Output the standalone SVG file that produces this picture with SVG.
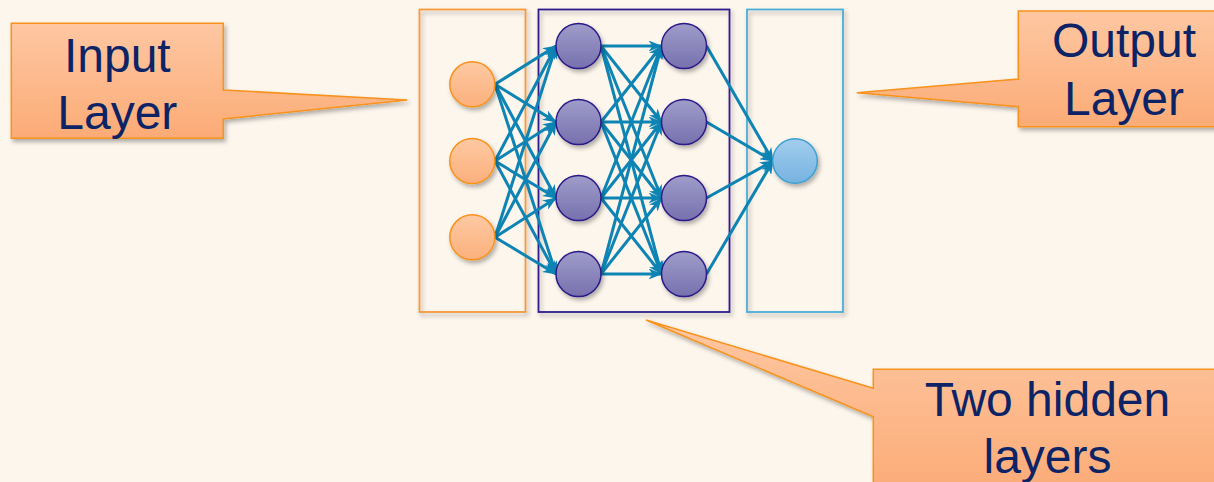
<svg xmlns="http://www.w3.org/2000/svg" width="1214" height="482" viewBox="0 0 1214 482">
<defs>
<linearGradient id="gCall" x1="0" y1="0" x2="0" y2="1"><stop offset="0" stop-color="#fec7a2"/><stop offset="1" stop-color="#fbab76"/></linearGradient>
<linearGradient id="gIn" x1="0" y1="0" x2="0" y2="1"><stop offset="0" stop-color="#fec9a3"/><stop offset="1" stop-color="#fbb07c"/></linearGradient>
<linearGradient id="gHid" x1="0" y1="0" x2="0" y2="1"><stop offset="0" stop-color="#9f9dca"/><stop offset="1" stop-color="#7770ae"/></linearGradient>
<linearGradient id="gOut" x1="0" y1="0" x2="0" y2="1"><stop offset="0" stop-color="#a3cdee"/><stop offset="1" stop-color="#76b3e0"/></linearGradient>
<filter id="sh" x="-20%" y="-20%" width="150%" height="150%"><feDropShadow dx="2" dy="3" stdDeviation="2.2" flood-color="#000" flood-opacity="0.3"/></filter>
<marker id="ah" viewBox="0 0 14 11" refX="13" refY="5.5" markerWidth="14" markerHeight="11" markerUnits="userSpaceOnUse" orient="auto"><path d="M0,0 L14,5.5 L0,11 L4,5.5 Z" fill="#0e84b4"/></marker>
<style>
.call{fill:url(#gCall);stroke:#f7931e;stroke-width:1.5;filter:url(#sh)}
.lbl{font-family:"Liberation Sans",Arial,sans-serif;font-size:48px;fill:#0c2466;text-anchor:middle}
.box{fill:none;stroke-width:1.8;filter:url(#sh)}
.in{fill:url(#gIn);stroke:#f7931e;stroke-width:1.5;filter:url(#sh)}
.hid{fill:url(#gHid);stroke:#2a1a88;stroke-width:1.5;filter:url(#sh)}
.out{fill:url(#gOut);stroke:#3a9fd0;stroke-width:1.5;filter:url(#sh)}
.e{stroke:#0e84b4;stroke-width:3;fill:none;marker-end:url(#ah)}
</style>
</defs>
<rect width="1214" height="482" fill="#fdf6ed"/>

<g id="boxes">
<rect class="box" x="419.5" y="9.5" width="106" height="302.5" stroke="#f59a3a"/>
<rect class="box" x="538.5" y="9.5" width="191" height="302.5" stroke="#2e1f8c"/>
<rect class="box" x="747" y="9.5" width="96" height="302.5" stroke="#4aaed8"/>
</g>

<g id="callout-input">
<path class="call" d="M11.3,23.3 H223.3 V90 L407.3,100 L223.3,119 V138.3 H11.3 Z"/>
<text class="lbl" x="117.3" y="71.5">Input</text>
<text class="lbl" x="117.3" y="128.5">Layer</text>
</g>
<g id="callout-output">
<path class="call" d="M1018.3,11 H1230 V126.7 H1018.3 V106.7 L856.7,92.7 L1018.3,79 Z"/>
<text class="lbl" x="1124" y="57">Output</text>
<text class="lbl" x="1124" y="115">Layer</text>
</g>
<g id="callout-hidden">
<path class="call" d="M873.3,369.3 H1222 V495 H873.3 V416.7 L646,320 L873.3,388.3 Z"/>
<text class="lbl" x="1047.5" y="416">Two hidden</text>
<text class="lbl" x="1047.5" y="473">layers</text>
</g>

<g id="connectors">
<line class="e" x1="495" y1="84.3" x2="556" y2="46"/>
<line class="e" x1="495" y1="84.3" x2="556" y2="122"/>
<line class="e" x1="495" y1="84.3" x2="556" y2="198"/>
<line class="e" x1="495" y1="84.3" x2="556" y2="274"/>
<line class="e" x1="495" y1="161" x2="556" y2="46"/>
<line class="e" x1="495" y1="161" x2="556" y2="122"/>
<line class="e" x1="495" y1="161" x2="556" y2="198"/>
<line class="e" x1="495" y1="161" x2="556" y2="274"/>
<line class="e" x1="495" y1="237.3" x2="556" y2="46"/>
<line class="e" x1="495" y1="237.3" x2="556" y2="122"/>
<line class="e" x1="495" y1="237.3" x2="556" y2="198"/>
<line class="e" x1="495" y1="237.3" x2="556" y2="274"/>

<line class="e" x1="601" y1="46" x2="661.5" y2="46"/>
<line class="e" x1="601" y1="46" x2="661.5" y2="122"/>
<line class="e" x1="601" y1="46" x2="661.5" y2="198"/>
<line class="e" x1="601" y1="46" x2="661.5" y2="274"/>
<line class="e" x1="601" y1="122" x2="661.5" y2="46"/>
<line class="e" x1="601" y1="122" x2="661.5" y2="122"/>
<line class="e" x1="601" y1="122" x2="661.5" y2="198"/>
<line class="e" x1="601" y1="122" x2="661.5" y2="274"/>
<line class="e" x1="601" y1="198" x2="661.5" y2="46"/>
<line class="e" x1="601" y1="198" x2="661.5" y2="122"/>
<line class="e" x1="601" y1="198" x2="661.5" y2="198"/>
<line class="e" x1="601" y1="198" x2="661.5" y2="274"/>
<line class="e" x1="601" y1="274" x2="661.5" y2="46"/>
<line class="e" x1="601" y1="274" x2="661.5" y2="122"/>
<line class="e" x1="601" y1="274" x2="661.5" y2="198"/>
<line class="e" x1="601" y1="274" x2="661.5" y2="274"/>

<line class="e" x1="706.5" y1="46" x2="773" y2="161"/>
<line class="e" x1="706.5" y1="122" x2="773" y2="161"/>
<line class="e" x1="706.5" y1="198" x2="773" y2="161"/>
<line class="e" x1="706.5" y1="274" x2="773" y2="161"/>
</g>

<g id="input-nodes">
<circle id="in1" class="in" cx="472.3" cy="84.3" r="22.5"/>
<circle id="in2" class="in" cx="472.3" cy="161" r="22.5"/>
<circle id="in3" class="in" cx="472.3" cy="237.3" r="22.5"/>
</g>
<g id="hidden1-nodes">
<circle id="h1a" class="hid" cx="578.5" cy="46" r="22.5"/>
<circle id="h1b" class="hid" cx="578.5" cy="122" r="22.5"/>
<circle id="h1c" class="hid" cx="578.5" cy="198" r="22.5"/>
<circle id="h1d" class="hid" cx="578.5" cy="274" r="22.5"/>
</g>
<g id="hidden2-nodes">
<circle id="h2a" class="hid" cx="684" cy="46" r="22.5"/>
<circle id="h2b" class="hid" cx="684" cy="122" r="22.5"/>
<circle id="h2c" class="hid" cx="684" cy="198" r="22.5"/>
<circle id="h2d" class="hid" cx="684" cy="274" r="22.5"/>
</g>
<g id="output-node">
<circle id="out1" class="out" cx="795" cy="161" r="22.3"/>
</g>
</svg>
